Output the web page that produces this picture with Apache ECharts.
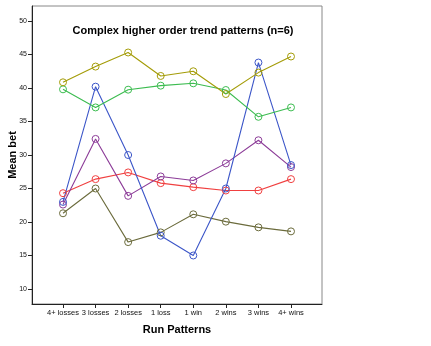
<!DOCTYPE html>
<html><head><meta charset="utf-8">
<script src="https://cdn.jsdelivr.net/npm/echarts@6/dist/echarts.min.js"></script>
<style>html,body{margin:0;padding:0;background:#fff}#c{width:431px;height:346px}</style>
</head><body><div id="c"></div>
<script>
const categories = ['4+ losses','3 losses','2 losses','1 loss','1 win','2 wins','3 wins','4+ wins'];
const yTicks = [10,15,20,25,30,35,40,45,50];
const olive = [40.85,43.2,45.3,41.8,42.5,39.1,42.3,44.7];
const green = [39.8,37.1,39.75,40.35,40.7,39.7,35.7,37.1];
const blue = [23.0,40.2,30.0,17.95,15.0,25.0,43.8,28.5];
const purple = [22.6,32.4,23.9,26.8,26.2,28.75,32.2,28.2];
const red = [24.3,26.4,27.4,25.8,25.2,24.7,24.7,26.4];
const darkOlive = [21.3,25.0,17.0,18.45,21.15,20.05,19.2,18.6];

const seriesDefs = [
  {name:'A', data: darkOlive, color:'#6b6b3c'},
  {name:'B', data: red, color:'#f04040'},
  {name:'C', data: purple, color:'#8c3c98'},
  {name:'D', data: blue, color:'#3c56c8'},
  {name:'E', data: green, color:'#3cbc50'},
  {name:'F', data: olive, color:'#a49c08'}
];
const chart = echarts.init(document.getElementById('c'), null, {renderer:'canvas'});
const xIdx = categories.map((_, i) => i);
chart.setOption({
  animation:false,
  title:{text:'Complex higher order trend patterns (n=6)', left:178, top:20, textAlign:'center',
    textStyle:{fontFamily:'Liberation Sans, Arial', fontSize:11, fontWeight:'bold', color:'#000'}},
  grid:{left:32, right:109, top:6, bottom:42, containLabel:false, outerBoundsMode:'none',
    show:true, borderColor:'#888', borderWidth:1, backgroundColor:'transparent'},
  xAxis:{type:'value', min:-0.952, max:7.952, name:'Run Patterns', nameLocation:'middle', nameGap:20,
    nameTextStyle:{fontFamily:'Liberation Sans, Arial', fontSize:11, fontWeight:'bold', color:'#000'},
    splitLine:{show:false},
    axisLine:{show:true, onZero:false, lineStyle:{color:'#222', width:1}},
    axisTick:{show:true, length:4, lineStyle:{color:'#222'}, customValues: xIdx},
    axisLabel:{customValues: xIdx, formatter: v => categories[Math.round(v)], fontSize:7.5, color:'#111', margin:5,
      fontFamily:'Liberation Sans, Arial'}},
  yAxis:{type:'value', min:7.76, max:52.24, name:'Mean bet', nameLocation:'middle', nameGap:14, nameRotate:90,
    nameMoveOverlap:false,
    nameTextStyle:{fontFamily:'Liberation Sans, Arial', fontSize:11, fontWeight:'bold', color:'#000'},
    splitLine:{show:false},
    axisLine:{show:true, onZero:false, lineStyle:{color:'#222', width:1}},
    axisTick:{show:true, length:4, lineStyle:{color:'#222'}, customValues: yTicks},
    axisLabel:{customValues: yTicks, fontSize:7, color:'#111', margin:5, fontFamily:'Liberation Sans, Arial'}},
  series: seriesDefs.map(s => ({
    type:'line', name:s.name, data: s.data.map((v,i)=>[i,v]),
    symbol:'circle', symbolSize:7, showSymbol:true,
    lineStyle:{color:s.color, width:1.1},
    itemStyle:{color:'rgba(0,0,0,0)', borderColor:s.color, borderWidth:1}
  }))
});
</script></body></html>
